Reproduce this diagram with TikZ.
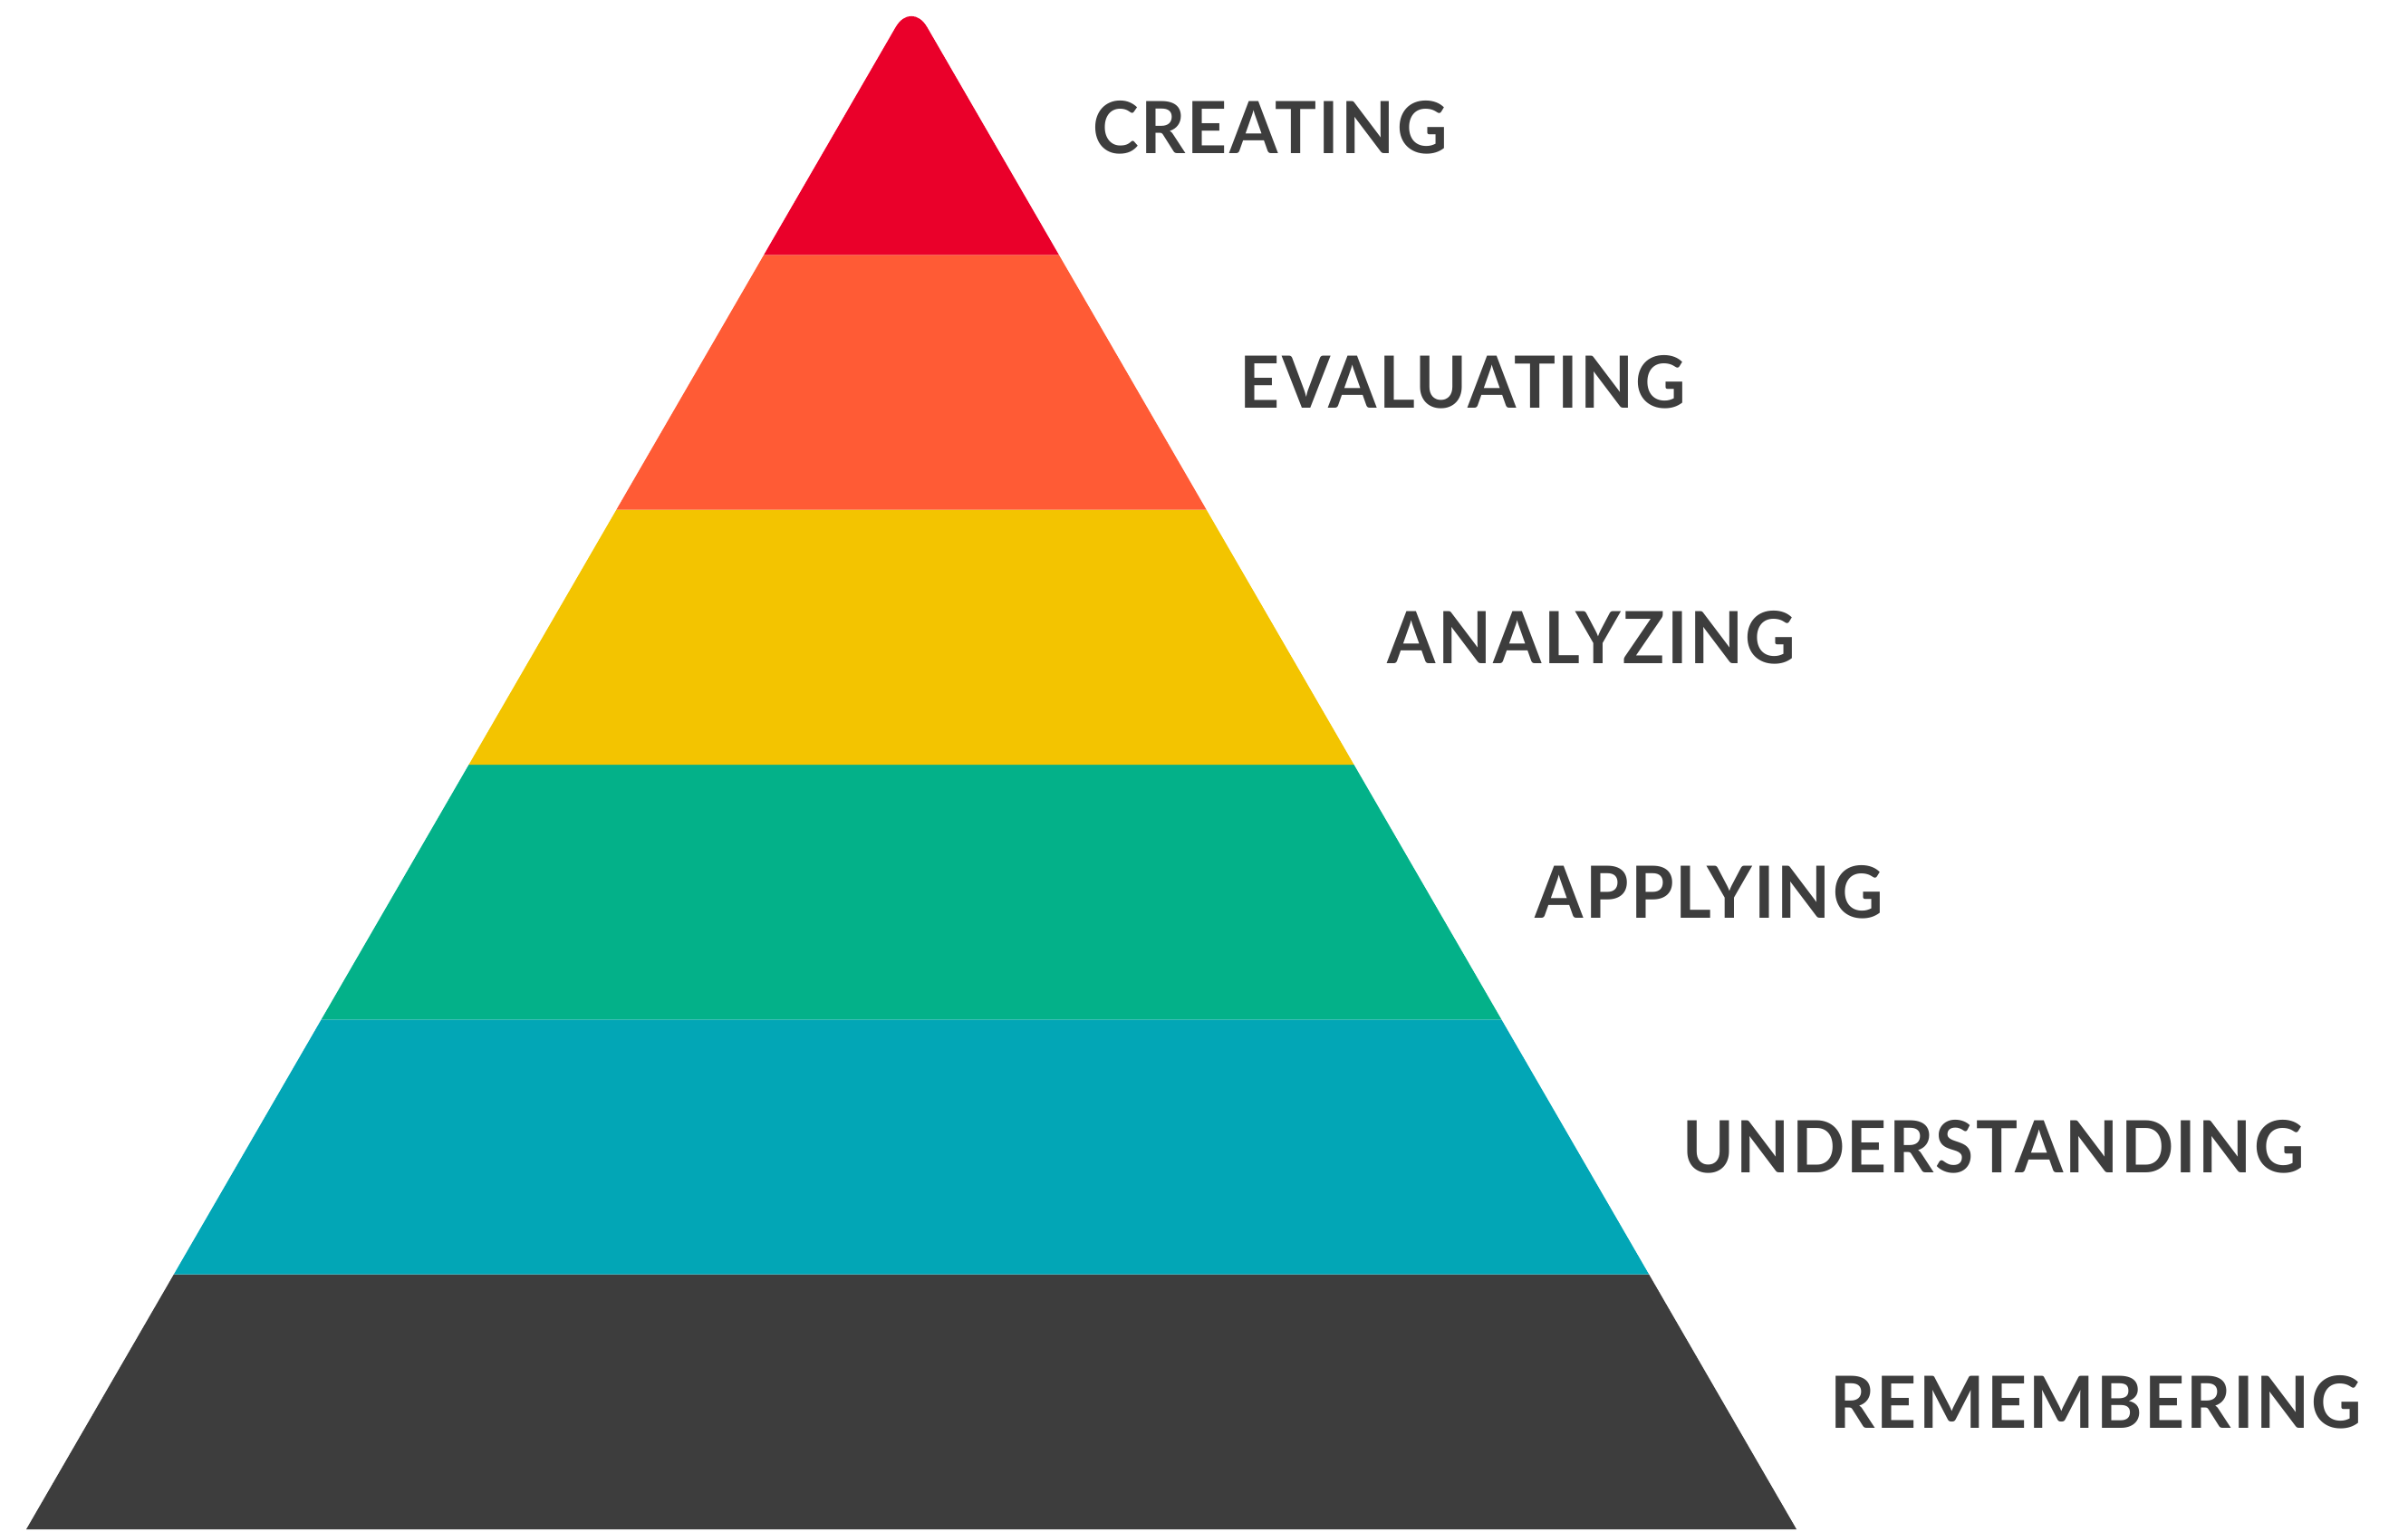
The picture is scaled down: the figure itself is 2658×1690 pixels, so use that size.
\documentclass[tikz,border=0pt]{standalone}
\usepackage{fontspec}
\usetikzlibrary{calc}
\newfontfamily\labfont{Lato}[LetterSpace=3]
\definecolor{cRed}{HTML}{EA002A}
\definecolor{cOrange}{HTML}{FF5B35}
\definecolor{cYellow}{HTML}{F3C400}
\definecolor{cGreen}{HTML}{03B189}
\definecolor{cTeal}{HTML}{02A6B6}
\definecolor{cDark}{HTML}{3D3D3D}
\newcommand{\labtxt}[1]{\scalebox{0.965}[1]{#1}}
\begin{document}
\begin{tikzpicture}[x=0.01cm,y=-0.01cm,
  lab/.style={anchor=west, text=cDark, inner sep=0pt,
    font=\labfont\bfseries\fontsize{22.6}{24}\selectfont}]
\useasboundingbox (0,0) rectangle (2658,1690);
\coordinate (A) at (1006,0);
\coordinate (L0) at (29,1688);
\coordinate (R0) at (1983,1688);
\foreach \k in {1,...,5}{
  \coordinate (L\k) at ($(L0)!\k/6!(A)$);
  \coordinate (R\k) at ($(R0)!\k/6!(A)$);
}
% tiers
\fill[cDark]   (L0) -- (R0) -- (R1) -- (L1) -- cycle;
\fill[cTeal]   (L1) -- (R1) -- (R2) -- (L2) -- cycle;
\fill[cGreen]  (L2) -- (R2) -- (R3) -- (L3) -- cycle;
\fill[cYellow] (L3) -- (R3) -- (R4) -- (L4) -- cycle;
\fill[cOrange] (L4) -- (R4) -- (R5) -- (L5) -- cycle;
\fill[cRed]    (L5) [rounded corners=0.35cm] -- (A) [sharp corners] -- (R5) -- cycle;
% labels
\node[lab] (cre) at ($($(R5)!0.5!(A)$)+(118,0)$) {\labtxt{CREATING}};
\node[lab] (eva) at ($($(R4)!0.5!(R5)$)+(118,0)$) {\labtxt{EVALUATING}};
\node[lab] (ana) at ($($(R3)!0.5!(R4)$)+(118,0)$) {\labtxt{ANALYZING}};
\node[lab] (app) at ($($(R2)!0.5!(R3)$)+(118,0)$) {\labtxt{APPLYING}};
\node[lab] (und) at ($($(R1)!0.5!(R2)$)+(118,0)$) {\labtxt{UNDERSTANDING}};
\node[lab] (rem) at ($($(R0)!0.5!(R1)$)+(118,0)$) {\labtxt{REMEMBERING}};
\end{tikzpicture}
\end{document}
